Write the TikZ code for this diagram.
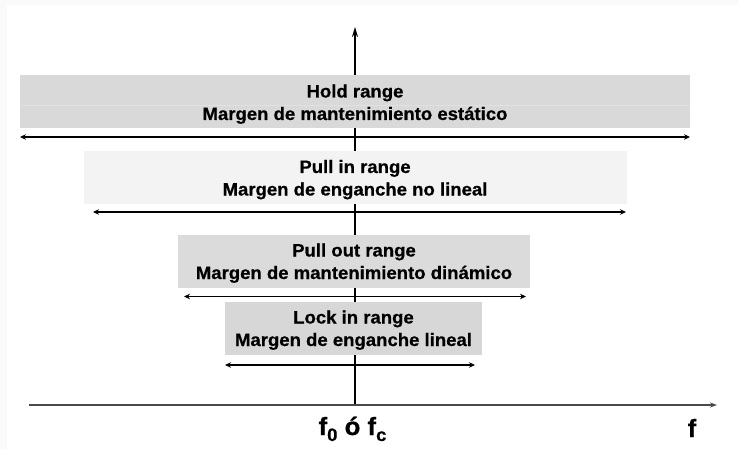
\documentclass[tikz,border=0pt]{standalone}
\usepackage{fontspec}
\setmainfont{Liberation Sans}[FakeStretch=1.03,BoldFeatures={FakeBold=0.6}]
\usetikzlibrary{arrows.meta}
\definecolor{offwhite}{HTML}{FAFAFA}
\definecolor{holdgray}{HTML}{D9D9D9}
\definecolor{pullingray}{HTML}{F3F3F3}
\definecolor{pulloutgray}{HTML}{DBDBDB}
\definecolor{lockgray}{HTML}{D7D7D7}
\definecolor{seplight}{HTML}{E1E1E1}
\definecolor{axisgray}{HTML}{4A4A4A}
\newcommand{\fsub}[1]{\raisebox{-6pt}{\fontsize{18}{20}\selectfont #1}}

\begin{document}
\begin{tikzpicture}[x=1pt,y=-1pt,
  rangebox/.style={inner sep=0pt,outer sep=0pt,minimum height=53pt},
  rangetxt/.style={anchor=base,inner sep=0pt,font=\fontsize{18}{21}\selectfont\bfseries},
  rangearrow/.style={{Stealth[length=6pt,width=5.5pt]}-{Stealth[length=6pt,width=5.5pt]},line width=1.8pt},
  axislbl/.style={anchor=base,inner sep=0pt,font=\fontsize{25}{28}\selectfont\bfseries}]
\useasboundingbox (0,0) rectangle (738,449);
\fill[offwhite] (0,0) rectangle (738,449);
\fill[white] (7,5) rectangle (738,449);

\coordinate (origin) at (355,405);
\coordinate (ytop) at (355,27);
\coordinate (xleft) at (29,405);
\coordinate (xright) at (717,405);
\draw[line width=1.8pt,-{Stealth[length=10pt,width=6pt]}] (origin) -- (ytop);
\draw[axisgray,line width=1.5pt,-{Stealth[length=7pt,width=5pt]}] (xleft) -- (xright);

\node[rangebox,fill=holdgray,minimum width=670pt] (hold) at (355,101.5) {};
\draw[seplight,line width=0.7pt] (hold.west |- 0,105) -- (hold.east |- 0,105);
\node[rangebox,fill=pullingray,minimum width=543pt] (pullin) at (355.5,177.5) {};
\node[rangebox,fill=pulloutgray,minimum width=352pt] (pullout) at (354,261) {};
\node[rangebox,fill=lockgray,minimum width=257pt] (lock) at (353.5,328.5) {};

\node[rangetxt] (holdA) at (355,97.5) {Hold range};
\node[rangetxt] (holdB) at (355,120) {Margen de mantenimiento estático};
\node[rangetxt] (pullinA) at (355,173) {Pull in range};
\node[rangetxt] (pullinB) at (355,195.5) {Margen de enganche no lineal};
\node[rangetxt] (pulloutA) at (354,256.5) {Pull out range};
\node[rangetxt] (pulloutB) at (354,279) {Margen de mantenimiento dinámico};
\node[rangetxt] (lockA) at (353.5,323.5) {Lock in range};
\node[rangetxt] (lockB) at (353.5,346) {Margen de enganche lineal};

\coordinate (holdL) at (20,137);
\coordinate (holdR) at (690,137);
\coordinate (pullinL) at (93,212);
\coordinate (pullinR) at (626,212);
\coordinate (pulloutL) at (184,296.5);
\coordinate (pulloutR) at (526,296.5);
\coordinate (lockL) at (225,365);
\coordinate (lockR) at (475,365);
\draw[rangearrow] (holdL) -- (holdR);
\draw[rangearrow] (pullinL) -- (pullinR);
\draw[rangearrow] (pulloutL) -- (pulloutR);
\draw[rangearrow] (lockL) -- (lockR);

\node[axislbl] (fcenter) at (352.5,435) {f\fsub{0} ó f\fsub{c}};
\node[axislbl] (faxis) at (692,437) {f};
\end{tikzpicture}
\end{document}
